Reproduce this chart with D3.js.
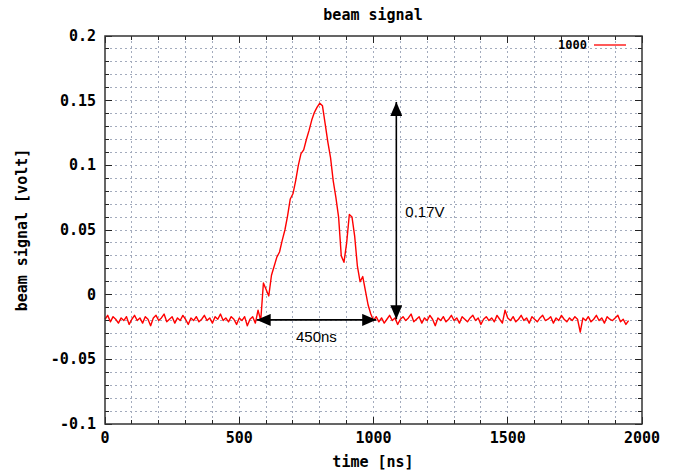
<!DOCTYPE html>
<html>
<head>
<meta charset="utf-8">
<script src="https://cdn.jsdelivr.net/npm/d3@7"></script>
<style>
  html, body { margin: 0; padding: 0; background: #fff; }
  svg { display: block; }
  .lbl { font-family: "DejaVu Sans Mono", monospace; font-weight: bold; font-size: 15px; fill: #000; }
  .ann { font-family: "Liberation Sans", Arial, sans-serif; font-size: 15px; fill: #000; }
</style>
</head>
<body>
<svg id="chart" width="673" height="475"></svg>
<script>
// Beam signal trace, sampled every 10 ns from 0 to 1950 ns
const sampleStep = 10;
const baselineBefore = [
  -0.019,-0.016,-0.021,-0.017,-0.019,-0.022,-0.018,-0.020,-0.017,-0.023,
  -0.019,-0.016,-0.020,-0.018,-0.022,-0.017,-0.019,-0.024,-0.018,-0.016,
  -0.020,-0.018,-0.015,-0.021,-0.019,-0.017,-0.022,-0.018,-0.020,-0.016,
  -0.019,-0.023,-0.018,-0.020,-0.017,-0.021,-0.019,-0.016,-0.020,-0.018,
  -0.022,-0.017,-0.019,-0.015,-0.020,-0.018,-0.021,-0.017,-0.019,-0.023,
  -0.018,-0.020,-0.017,-0.024,-0.019
];
const pulse = [
  -0.017,-0.022,-0.012,-0.020,0.009,0.004,-0.001,0.015,0.022,0.029,
  0.033,0.042,0.050,0.061,0.074,0.078,0.088,0.100,0.109,0.112,
  0.120,0.127,0.135,0.141,0.145,0.148,0.146,0.132,0.118,0.106,
  0.088,0.075,0.060,0.030,0.025,0.040,0.062,0.060,0.045,0.022,
  0.010,0.014,0.003,-0.008,-0.015,-0.020
];
const baselineAfter = [
  -0.017,-0.021,-0.018,-0.022,-0.019,-0.016,-0.020,-0.018,-0.023,-0.019,
  -0.017,-0.020,-0.018,-0.015,-0.021,-0.019,-0.017,-0.022,-0.018,-0.020,
  -0.016,-0.019,-0.024,-0.018,-0.020,-0.017,-0.021,-0.019,-0.016,-0.020,
  -0.018,-0.022,-0.017,-0.019,-0.021,-0.018,-0.016,-0.020,-0.018,-0.023,
  -0.019,-0.017,-0.020,-0.018,-0.021,-0.016,-0.019,-0.022,-0.012,-0.018,
  -0.020,-0.017,-0.021,-0.019,-0.016,-0.020,-0.018,-0.022,-0.017,-0.019,
  -0.021,-0.018,-0.016,-0.020,-0.019,-0.017,-0.022,-0.018,-0.020,-0.016,
  -0.019,-0.021,-0.018,-0.020,-0.017,-0.019,-0.029,-0.018,-0.020,-0.017,
  -0.021,-0.019,-0.016,-0.020,-0.018,-0.022,-0.017,-0.019,-0.020,-0.018,
  -0.016,-0.021,-0.019,-0.023,-0.020
];
const seriesName = "1000";

const xTicks = [0, 500, 1000, 1500, 2000];
const yTicks = [-0.1, -0.05, 0, 0.05, 0.1, 0.15, 0.2];
const yTickLabels = ["-0.1", "-0.05", "0", "0.05", "0.1", "0.15", "0.2"];

// Annotations: peak height and pulse width
const heightArrow = { t: 1085, from: -0.019, to: 0.149, label: "0.17V" };
const widthArrow = { v: -0.0195, from: 565, to: 1010, label: "450ns" };

const signal = baselineBefore.concat(pulse, baselineAfter);
const data = signal.map((v, i) => ({ t: i * sampleStep, v }));

const svg = d3.select("#chart");
const m = { left: 105, right: 642, top: 36, bottom: 424 };
const x = d3.scaleLinear().domain([0, 2000]).range([m.left, m.right]);
const y = d3.scaleLinear().domain([-0.1, 0.2]).range([m.bottom, m.top]);

// dotted grid
const gridColor = "#a3abbd";
const g = svg.append("g");
d3.range(100, 2000, 100).forEach(t => {
  g.append("line").attr("x1", x(t)).attr("x2", x(t)).attr("y1", m.top).attr("y2", m.bottom)
    .attr("stroke", gridColor).attr("stroke-width", 1).attr("stroke-dasharray", "2,3")
    .attr("shape-rendering", "crispEdges");
});
d3.range(-9, 20, 1).map(k => k / 100).forEach(v => {
  g.append("line").attr("x1", m.left).attr("x2", m.right).attr("y1", y(v)).attr("y2", y(v))
    .attr("stroke", gridColor).attr("stroke-width", 1).attr("stroke-dasharray", "2,3")
    .attr("shape-rendering", "crispEdges");
});

// inward ticks on all four sides
const tk = svg.append("g").attr("stroke", "#222").attr("shape-rendering", "crispEdges");
d3.range(0, 2001, 100).forEach(t => {
  const len = t % 500 === 0 ? 7 : 4;
  tk.append("line").attr("x1", x(t)).attr("x2", x(t)).attr("y1", m.bottom).attr("y2", m.bottom - len);
  tk.append("line").attr("x1", x(t)).attr("x2", x(t)).attr("y1", m.top).attr("y2", m.top + len);
});
d3.range(-10, 21, 1).forEach(k => {
  const v = k / 100;
  const len = k % 5 === 0 ? 7 : 4;
  tk.append("line").attr("x1", m.left).attr("x2", m.left + len).attr("y1", y(v)).attr("y2", y(v));
  tk.append("line").attr("x1", m.right).attr("x2", m.right - len).attr("y1", y(v)).attr("y2", y(v));
});

// signal trace
const line = d3.line().x(d => x(d.t)).y(d => y(d.v));
svg.append("path").datum(data).attr("d", line)
  .attr("fill", "none").attr("stroke", "#ff0000").attr("stroke-width", 1.4)
  .attr("stroke-linejoin", "round");

// frame
svg.append("rect").attr("x", m.left).attr("y", m.top)
  .attr("width", m.right - m.left).attr("height", m.bottom - m.top)
  .attr("fill", "none").attr("stroke", "#333").attr("stroke-width", 1.5);

// axis tick labels
svg.append("g").selectAll("text").data(xTicks).join("text")
  .attr("class", "lbl").attr("x", d => x(d)).attr("y", m.bottom + 19)
  .attr("text-anchor", "middle").text(d => d);
svg.append("g").selectAll("text").data(yTicks).join("text")
  .attr("class", "lbl").attr("x", m.left - 9).attr("y", d => y(d) + 5)
  .attr("text-anchor", "end").text((d, i) => yTickLabels[i]);

// titles
svg.append("text").attr("class", "lbl").attr("x", 373).attr("y", 20)
  .attr("text-anchor", "middle").text("beam signal");
svg.append("text").attr("class", "lbl").attr("x", 373).attr("y", 467)
  .attr("text-anchor", "middle").text("time [ns]");
svg.append("text").attr("class", "lbl")
  .attr("transform", `translate(27,${(m.top + m.bottom) / 2}) rotate(-90)`)
  .attr("text-anchor", "middle").text("beam signal [volt]");

// legend
svg.append("text").attr("class", "lbl").attr("x", 587).attr("y", 49)
  .attr("text-anchor", "end").style("font-size", "12px").text(seriesName);
svg.append("line").attr("x1", 594).attr("x2", 626).attr("y1", 45).attr("y2", 45)
  .attr("stroke", "#ff0000").attr("stroke-width", 1.3);

// double-headed arrows
const defs = svg.append("defs");
defs.append("marker").attr("id", "head").attr("viewBox", "0 0 14 12")
  .attr("refX", 14).attr("refY", 6).attr("markerWidth", 14).attr("markerHeight", 12)
  .attr("markerUnits", "userSpaceOnUse").attr("orient", "auto-start-reverse")
  .append("path").attr("d", "M0,0 L14,6 L0,12 Z").attr("fill", "#000");

svg.append("line")
  .attr("x1", x(heightArrow.t)).attr("x2", x(heightArrow.t))
  .attr("y1", y(heightArrow.from)).attr("y2", y(heightArrow.to))
  .attr("stroke", "#000").attr("stroke-width", 1.6)
  .attr("marker-start", "url(#head)").attr("marker-end", "url(#head)");
svg.append("text").attr("class", "ann").attr("x", x(heightArrow.t) + 9)
  .attr("y", y((heightArrow.from + heightArrow.to) / 2) + 6).text(heightArrow.label);

svg.append("line")
  .attr("x1", x(widthArrow.from)).attr("x2", x(widthArrow.to))
  .attr("y1", y(widthArrow.v)).attr("y2", y(widthArrow.v))
  .attr("stroke", "#000").attr("stroke-width", 1.6)
  .attr("marker-start", "url(#head)").attr("marker-end", "url(#head)");
svg.append("text").attr("class", "ann").attr("text-anchor", "middle")
  .attr("x", (x(widthArrow.from) + x(widthArrow.to)) / 2).attr("y", y(widthArrow.v) + 22)
  .text(widthArrow.label);
</script>
</body>
</html>
